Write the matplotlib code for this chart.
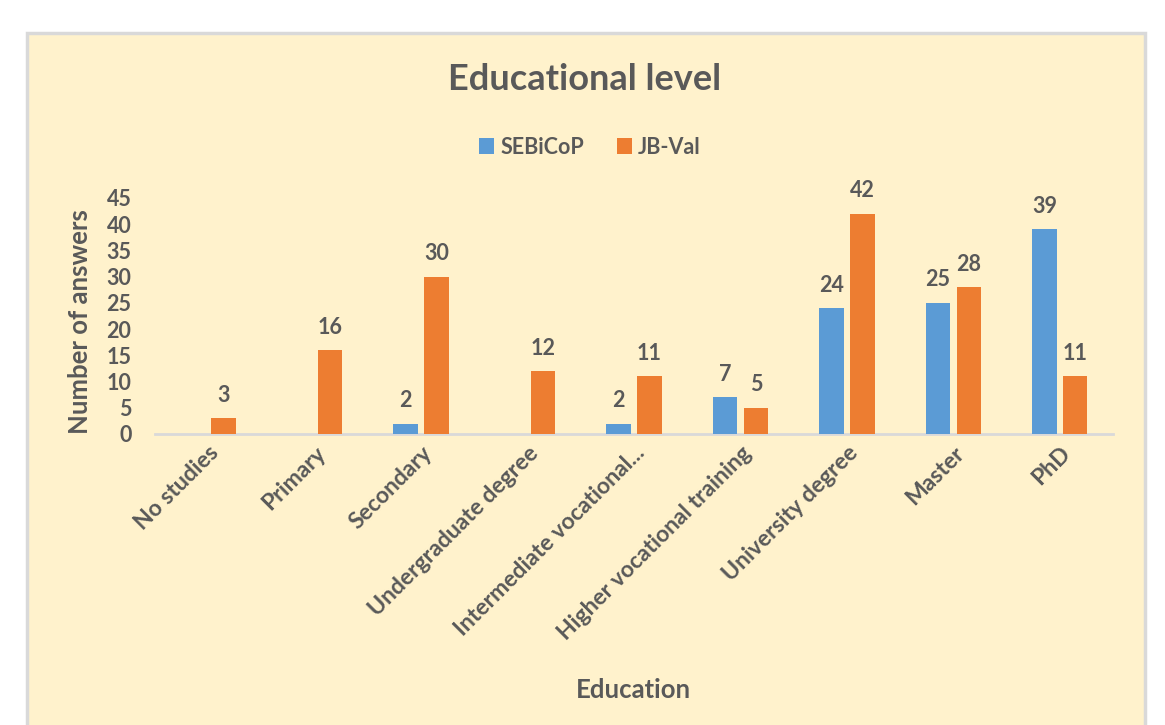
import matplotlib
matplotlib.use("Agg")
import matplotlib.pyplot as plt
from matplotlib.patches import Rectangle
from matplotlib.transforms import ScaledTranslation
import numpy as np

categories = ["No studies", "Primary", "Secondary", "Undergraduate degree",
              "Intermediate vocational...", "Higher vocational training",
              "University degree", "Master", "PhD"]
sebicop = [0, 0, 2, 0, 2, 7, 24, 25, 39]
jbval = [3, 16, 30, 12, 11, 5, 42, 28, 11]
yticks = [0, 5, 10, 15, 20, 25, 30, 35, 40, 45]

W, H = 1165, 725
plt.rcParams['font.family'] = ['Lato', 'DejaVu Sans']
txt = '#595959'
fig = plt.figure(figsize=(W/100, H/100), dpi=100, facecolor='white')

# chart area
bg = fig.add_axes([0, 0, 1, 1], zorder=-10)
bg.set_xlim(0, W); bg.set_ylim(H, 0); bg.axis('off')
bg.add_patch(Rectangle((27, 33), 1145 - 27, 760, facecolor='#FFF2CC',
                       edgecolor='#D9D9D9', linewidth=2.5))

ax = fig.add_axes([155/W, (H-434)/H, (1113-155)/W, (434-198)/H])
ax.set_facecolor('none')
x = np.arange(len(categories))
w = 0.23
off = 0.145
b1 = ax.bar(x - off, sebicop, w, color='#5B9BD5', label='SEBiCoP', zorder=3)
b2 = ax.bar(x + off, jbval, w, color='#ED7D31', label='JB-Val', zorder=3)

for xs, vals in ((x - off, sebicop), (x + off, jbval)):
    for xi, v in zip(xs, vals):
        if v > 0:
            ax.annotate(str(v), (xi, v), xytext=(0, 9), textcoords='offset points',
                        ha='center', va='bottom', fontsize=15.5, fontweight='bold', color=txt)

ax.set_xlim(-0.5, len(categories) - 0.5)
ax.set_ylim(0, 45)
ax.set_yticks(yticks)
ax.set_yticklabels([str(t) for t in yticks], fontsize=15.5, fontweight='bold', color=txt)
ax.set_xticks(x)
ax.set_xticklabels(categories, rotation=45, ha='right', va='top', rotation_mode='anchor',
                   fontsize=16.5, fontweight='bold', color=txt)
shift = ScaledTranslation(-0.08, -0.06, fig.dpi_scale_trans)
for lbl in ax.get_xticklabels():
    lbl.set_transform(lbl.get_transform() + shift)
ax.tick_params(axis='x', length=0, pad=6)
ax.tick_params(axis='y', length=0, pad=17)
for s in ['top', 'right', 'left']:
    ax.spines[s].set_visible(False)
ax.spines['bottom'].set_color('#D9D9D9')
ax.spines['bottom'].set_linewidth(2)

fig.text(585/W, 1 - 80/H, 'Educational level', ha='center', va='center',
         fontsize=26, fontweight='bold', color=txt)
fig.text(633/W, 1 - 690/H, 'Education', ha='center', va='center',
         fontsize=18.5, fontweight='bold', color=txt)
fig.text(80/W, 1 - 322/H, 'Number of answers', ha='center', va='center', rotation=90,
         fontsize=18.5, fontweight='bold', color=txt)

leg = fig.legend(handles=[b1, b2], loc='center', bbox_to_anchor=(590/W, 1 - 147/H),
                 ncol=2, frameon=False, fontsize=15.5, handlelength=0.7, handleheight=0.7,
                 handletextpad=0.3, columnspacing=1.5)
for t in leg.get_texts():
    t.set_color(txt)
    t.set_fontweight('bold')

fig.savefig('out.png', dpi=100, facecolor='white')
